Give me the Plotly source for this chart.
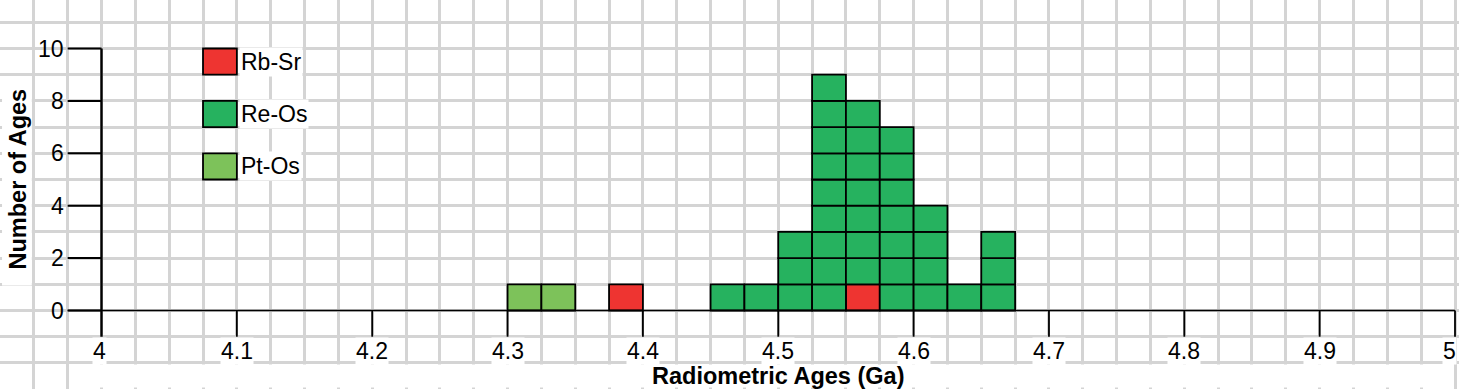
import plotly.graph_objects as go

# ---------------- data ----------------
bin_width = 0.025
rb_sr_bins = [4.375, 4.550]
rb_sr_counts = [1, 1]
re_os_bins = [4.450, 4.475, 4.500, 4.525, 4.550, 4.575, 4.600, 4.625, 4.650]
re_os_counts = [1, 1, 3, 9, 7, 7, 4, 1, 3]
pt_os_bins = [4.300, 4.325]
pt_os_counts = [1, 1]

series_names = ["Rb-Sr", "Re-Os", "Pt-Os"]
series_colors = ["#EE3431", "#26B25F", "#7DC25A"]

x_tick_vals = [4.0, 4.1, 4.2, 4.3, 4.4, 4.5, 4.6, 4.7, 4.8, 4.9, 5.0]
x_tick_labels = ["4", "4.1", "4.2", "4.3", "4.4", "4.5", "4.6", "4.7", "4.8", "4.9", "5"]
y_tick_vals = [0, 2, 4, 6, 8, 10]
y_tick_labels = ["0", "2", "4", "6", "8", "10"]
x_title = "Radiometric Ages (Ga)"
y_title = "Number of Ages"

# ---------------- layout constants ----------------
W, H = 1459, 389
X_RANGE = [3.925, 5.00295]
Y_RANGE = [-2.996, 11.851]
GRID = "#D4D4D4"
FONT = "Arial, Liberation Sans, sans-serif"

fig = go.Figure()

# stacked unit squares
stack = {}
series = [(rb_sr_bins, rb_sr_counts), (re_os_bins, re_os_counts), (pt_os_bins, pt_os_counts)]
for (bins, counts), name, color in zip(series, series_names, series_colors):
    xs, bases = [], []
    for b, c in zip(bins, counts):
        key = round(b, 4)
        start = stack.get(key, 0)
        for k in range(c):
            xs.append(b + bin_width / 2)
            bases.append(start + k)
        stack[key] = start + c
    fig.add_trace(go.Bar(
        x=xs, y=[1] * len(xs), base=bases, width=bin_width, name=name,
        marker=dict(color=color, line=dict(color="black", width=1.8)),
        showlegend=False,
    ))

shapes = []
# white boxes behind axis titles
shapes.append(dict(type="rect", xref="x", yref="y", x0=3.9765, x1=4.9985, y0=-2.94, y1=-2.06,
                   fillcolor="white", line=dict(width=0), layer="above"))
shapes.append(dict(type="rect", xref="x", yref="y", x0=3.9265, x1=3.9485, y0=0.95, y1=8.92,
                   fillcolor="white", line=dict(width=0), layer="above"))
# axis lines
shapes.append(dict(type="line", xref="x", yref="y", x0=4.0, x1=4.0, y0=-1, y1=10,
                   line=dict(color="black", width=2.4), layer="above"))
shapes.append(dict(type="line", xref="x", yref="y", x0=3.975, x1=5.0, y0=0, y1=0,
                   line=dict(color="black", width=1.5), layer="above"))
for v in y_tick_vals:
    shapes.append(dict(type="line", xref="x", yref="y", x0=3.975, x1=4.0, y0=v, y1=v,
                       line=dict(color="black", width=2), layer="above"))
for v in x_tick_vals[1:]:
    shapes.append(dict(type="line", xref="x", yref="y", x0=v, x1=v, y0=-1, y1=0,
                       line=dict(color="black", width=1.8), layer="above"))
# legend swatches
legend_y = [9, 7, 5]
for yy, color in zip(legend_y, series_colors):
    shapes.append(dict(type="rect", xref="x", yref="y", x0=4.075, x1=4.1, y0=yy, y1=yy + 1,
                       fillcolor=color, line=dict(color="black", width=1.8), layer="above"))

annotations = []
for v, t in zip(x_tick_vals, x_tick_labels):
    annotations.append(dict(x=v, y=-1.55, xref="x", yref="y", text=t, showarrow=False,
                            xanchor="center", yanchor="middle", bgcolor="white", borderpad=0,
                            xshift=-6 if v == 5.0 else (-2 if v == 4.0 else 0),
                            font=dict(family=FONT, size=23, color="black")))
for v, t in zip(y_tick_vals, y_tick_labels):
    annotations.append(dict(x=65 / W, y=v, xref="paper", yref="y", text=t, showarrow=False,
                            xanchor="right", yanchor="middle", borderpad=0,
                            font=dict(family=FONT, size=23, color="black")))
for yy, name in zip(legend_y, series_names):
    annotations.append(dict(x=4.1, y=yy + 0.5, xref="x", yref="y", text=name, showarrow=False,
                            xanchor="left", yanchor="middle", bgcolor="white", borderpad=1,
                            xshift=2, font=dict(family=FONT, size=23, color="black")))
annotations.append(dict(x=4.5, y=-2.5, xref="x", yref="y", text="<b>" + x_title + "</b>",
                        showarrow=False, xanchor="center", yanchor="middle",
                        font=dict(family=FONT, size=23.5, color="black")))
annotations.append(dict(x=17 / W, y=5, xref="paper", yref="y", text="<b>" + y_title + "</b>",
                        showarrow=False, xanchor="center", yanchor="middle", textangle=-90,
                        font=dict(family=FONT, size=23.5, color="black")))

fig.update_layout(
    width=W, height=H, margin=dict(l=0, r=0, t=0, b=0),
    paper_bgcolor="white", plot_bgcolor="white",
    barmode="overlay", showlegend=False,
    shapes=shapes, annotations=annotations,
    xaxis=dict(range=X_RANGE, tick0=4.0, dtick=bin_width, showgrid=True, gridcolor=GRID,
               gridwidth=3, showticklabels=False, ticks="", zeroline=False, showline=False,
               fixedrange=True),
    yaxis=dict(range=Y_RANGE, tick0=0, dtick=1, showgrid=True, gridcolor=GRID,
               gridwidth=3, showticklabels=False, ticks="", zeroline=False, showline=False,
               fixedrange=True),
)

fig.write_html("out.html", config={"displayModeBar": False},
               post_script="document.body.style.margin='0px';")
